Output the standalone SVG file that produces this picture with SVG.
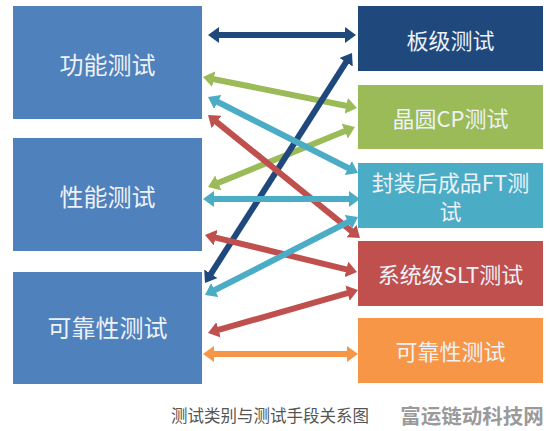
<svg xmlns="http://www.w3.org/2000/svg" width="550" height="431" viewBox="0 0 550 431">
<style>
.lt{font-family:"Noto Sans CJK SC","Noto Sans",sans-serif;font-size:24px;fill:#eef2f8;text-anchor:middle;dominant-baseline:central}
.rt{font-family:"Noto Sans CJK SC","Noto Sans",sans-serif;font-size:22px;fill:#eef2f8;text-anchor:middle;dominant-baseline:central}
.ln{fill:none;stroke-width:6}
</style>
<defs>
<marker id="mNavy" markerUnits="userSpaceOnUse" markerWidth="12" markerHeight="16" viewBox="0 0 12 16" refX="1" refY="8" orient="auto-start-reverse"><path d="M0,0 L11,8 L0,16 z" fill="#1f497d"/></marker>
<marker id="mGreen" markerUnits="userSpaceOnUse" markerWidth="12" markerHeight="16" viewBox="0 0 12 16" refX="1" refY="8" orient="auto-start-reverse"><path d="M0,0 L11,8 L0,16 z" fill="#9bbb59"/></marker>
<marker id="mCyan" markerUnits="userSpaceOnUse" markerWidth="12" markerHeight="16" viewBox="0 0 12 16" refX="1" refY="8" orient="auto-start-reverse"><path d="M0,0 L11,8 L0,16 z" fill="#4bacc6"/></marker>
<marker id="mRed" markerUnits="userSpaceOnUse" markerWidth="12" markerHeight="16" viewBox="0 0 12 16" refX="1" refY="8" orient="auto-start-reverse"><path d="M0,0 L11,8 L0,16 z" fill="#c0504d"/></marker>
<marker id="mOrange" markerUnits="userSpaceOnUse" markerWidth="12" markerHeight="16" viewBox="0 0 12 16" refX="1" refY="8" orient="auto-start-reverse"><path d="M0,0 L11,8 L0,16 z" fill="#f79646"/></marker>
</defs>
<rect width="550" height="431" fill="#ffffff"/>
<g id="left-functional"><rect x="13" y="6" width="189" height="113" fill="#4f81bd"/><text class="lt" x="107.5" y="63">功能测试</text></g>
<g id="left-performance"><rect x="13" y="138" width="189" height="113" fill="#4f81bd"/><text class="lt" x="107.5" y="195">性能测试</text></g>
<g id="left-reliability"><rect x="13" y="272" width="189" height="112" fill="#4f81bd"/><text class="lt" x="107.5" y="326">可靠性测试</text></g>
<g id="right-board"><rect x="358" y="6" width="185" height="65" fill="#1f497d"/><text class="rt" x="450.5" y="39">板级测试</text></g>
<g id="right-cp"><rect x="358" y="85" width="185" height="64" fill="#9bbb59"/><text class="rt" x="450.5" y="117">晶圆CP测试</text></g>
<g id="right-ft"><rect x="358" y="163" width="185" height="65" fill="#4bacc6"/><text class="rt" x="450.5" y="181" font-size="21">封装后成品FT测</text><text class="rt" x="450.5" y="210" font-size="21">试</text></g>
<g id="right-slt"><rect x="358" y="241" width="185" height="65" fill="#c0504d"/><text class="rt" x="450.5" y="273">系统级SLT测试</text></g>
<g id="right-rel"><rect x="358" y="318" width="185" height="65" fill="#f79646"/><text class="rt" x="450.5" y="350">可靠性测试</text></g>
<g id="connectors">
<path class="ln" stroke="#1f497d" marker-start="url(#mNavy)" marker-end="url(#mNavy)" d="M218,35 L346,35"/>
<path class="ln" stroke="#9bbb59" marker-start="url(#mGreen)" marker-end="url(#mGreen)" d="M212.8,79 L347.2,106"/>
<path class="ln" stroke="#9bbb59" marker-start="url(#mGreen)" marker-end="url(#mGreen)" d="M217.3,183.2 L345.7,130.8"/>
<path class="ln" stroke="#1f497d" marker-start="url(#mNavy)" marker-end="url(#mNavy)" d="M210.4,274.6 L346.6,61.4"/>
<path class="ln" stroke="#4bacc6" marker-start="url(#mCyan)" marker-end="url(#mCyan)" d="M216.9,101.5 L349.1,168.5"/>
<path class="ln" stroke="#c0504d" marker-start="url(#mRed)" marker-end="url(#mRed)" d="M215.8,121.3 L352.2,231.7"/>
<path class="ln" stroke="#4bacc6" marker-start="url(#mCyan)" marker-end="url(#mCyan)" d="M213,199 L350,199"/>
<path class="ln" stroke="#c0504d" marker-start="url(#mRed)" marker-end="url(#mRed)" d="M214.7,237.4 L347.3,269.6"/>
<path class="ln" stroke="#4bacc6" marker-start="url(#mCyan)" marker-end="url(#mCyan)" d="M213.9,290.5 L349.1,221.5"/>
<path class="ln" stroke="#c0504d" marker-start="url(#mRed)" marker-end="url(#mRed)" d="M217.6,330.2 L348.4,292.8"/>
<path class="ln" stroke="#f79646" marker-start="url(#mOrange)" marker-end="url(#mOrange)" d="M213,354 L348,354"/>
</g>
<text x="270" y="415" font-family="Noto Sans CJK SC, sans-serif" font-size="16.5" fill="#555555" text-anchor="middle" dominant-baseline="central">测试类别与测试手段关系图</text>
<text x="472" y="415" font-family="Noto Sans CJK SC, sans-serif" font-size="20.5" font-weight="bold" fill="#9a9a9a" text-anchor="middle" dominant-baseline="central">富运链动科技网</text>
</svg>
